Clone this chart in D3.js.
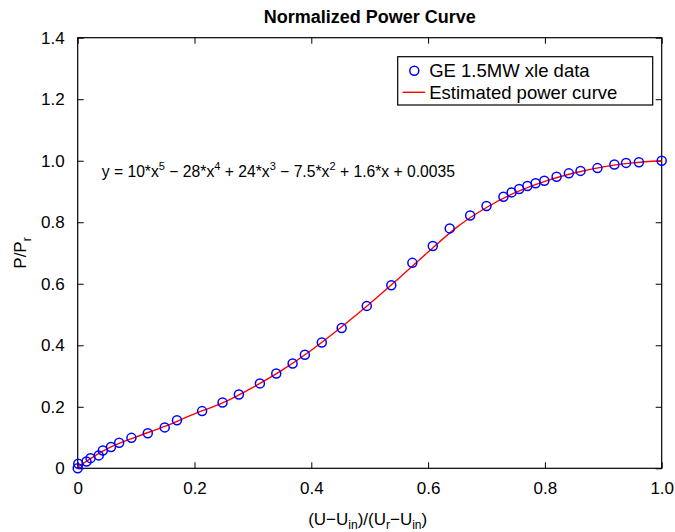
<!DOCTYPE html>
<html lang="en">
  <head>
    <meta charset='utf-8'>
    <script src='https://d3js.org/d3.v7.min.js'></script>
    <title>Normalized Power Curve</title>
    <style>
      body {
        margin: 0px;
        background: #fff;
      }
      text {
        font-family: 'Liberation Sans', Arial, Helvetica, sans-serif;
        fill: #000;
      }
      .tick text {
        font-size: 17px;
        fill: #000;
      }
    </style>
  </head>
  <body>
    <div id='viz'></div>
    <script>

      // measured data (normalized wind speed, normalized power)
      const dataX = [0, 0.001, 0.015, 0.022, 0.036, 0.043, 0.057, 0.071, 0.092, 0.120,
                     0.149, 0.170, 0.213, 0.248, 0.276, 0.312, 0.340, 0.368, 0.389, 0.418,
                     0.452, 0.495, 0.537, 0.573, 0.608, 0.637, 0.672, 0.700, 0.729, 0.743,
                     0.756, 0.770, 0.784, 0.799, 0.820, 0.841, 0.861, 0.890, 0.919, 0.939,
                     0.961, 1.0];
      const dataY = [0, 0.015, 0.022, 0.033, 0.042, 0.058, 0.069, 0.083, 0.099, 0.114,
                     0.133, 0.156, 0.186, 0.214, 0.240, 0.276, 0.308, 0.341, 0.369, 0.409,
                     0.456, 0.528, 0.595, 0.668, 0.723, 0.780, 0.822, 0.853, 0.883, 0.897,
                     0.908, 0.918, 0.927, 0.935, 0.948, 0.959, 0.967, 0.976, 0.988, 0.993,
                     0.995, 1.0];

      // estimated power curve
      const curveX = [0, 0.05, 0.1, 0.15, 0.2, 0.25, 0.3, 0.35, 0.4, 0.45, 0.5,
                      0.55, 0.6, 0.65, 0.7, 0.75, 0.8, 0.85, 0.9, 0.95, 1.0];
      const curveY = [0.004, 0.063, 0.102, 0.137, 0.177, 0.214, 0.263, 0.319, 0.384, 0.457, 0.535,
                      0.618, 0.703, 0.785, 0.848, 0.897, 0.933, 0.960, 0.980, 0.993, 1.0];

      const xTicks = [0, 0.2, 0.4, 0.6, 0.8, 1.0];
      const yTicks = [0, 0.2, 0.4, 0.6, 0.8, 1.0, 1.2, 1.4];

      const legendLabels = ['GE 1.5MW xle data', 'Estimated power curve'];
      const title = 'Normalized Power Curve';

      const width = 675, height = 532;
      const margin = { left: 77.7, right: 13.3, top: 37.7, bottom: 63.7 };
      const innerWidth = width - margin.left - margin.right;
      const innerHeight = height - margin.top - margin.bottom;

      const svg = d3.select('#viz').append('svg')
        .attr('width', width)
        .attr('height', height);

      const g = svg.append('g')
        .attr('transform', `translate(${margin.left},${margin.top})`);

      const xScale = d3.scaleLinear().domain([0, 1]).range([0, innerWidth]);
      const yScale = d3.scaleLinear().domain([0, 1.4]).range([innerHeight, 0]);

      const fmt = d => d === 0 ? '0' : d3.format('.1f')(d);
      const tickLen = 6;

      // axes, ticks pointing inward like matlab
      const xAxis = d3.axisBottom(xScale).tickValues(xTicks).tickFormat(fmt)
        .tickSize(-tickLen).tickPadding(tickLen + 8);
      const yAxis = d3.axisLeft(yScale).tickValues(yTicks).tickFormat(fmt)
        .tickSize(-tickLen).tickPadding(tickLen + 7);
      const xAxisTop = d3.axisTop(xScale).tickValues(xTicks).tickFormat('')
        .tickSize(-tickLen);
      const yAxisRight = d3.axisRight(yScale).tickValues(yTicks).tickFormat('')
        .tickSize(-tickLen);

      g.append('g').attr('transform', `translate(0,${innerHeight})`).call(xAxis);
      g.append('g').call(yAxis);
      g.append('g').call(xAxisTop);
      g.append('g').attr('transform', `translate(${innerWidth},0)`).call(yAxisRight);

      g.selectAll('.domain').remove();
      g.selectAll('.tick line').attr('stroke', '#000').attr('stroke-width', 1);
      g.selectAll('.tick text').attr('fill', '#000');

      g.append('rect')
        .attr('width', innerWidth)
        .attr('height', innerHeight)
        .attr('fill', 'none')
        .attr('stroke', '#000')
        .attr('stroke-width', 1.2);

      // fitted curve
      const curve = curveX.map((x, i) => ({ x: x, y: curveY[i] }));
      const line = d3.line()
        .x(d => xScale(d.x))
        .y(d => yScale(d.y))
        .curve(d3.curveMonotoneX);

      g.append('path')
        .datum(curve)
        .attr('fill', 'none')
        .attr('stroke', '#ff0000')
        .attr('stroke-width', 1.4)
        .attr('d', line);

      // data points
      const points = dataX.map((x, i) => ({ x: x, y: dataY[i] }));
      g.selectAll('circle.pt').data(points).enter().append('circle')
        .attr('class', 'pt')
        .attr('cx', d => xScale(d.x))
        .attr('cy', d => yScale(d.y))
        .attr('r', 4.5)
        .attr('fill', 'none')
        .attr('stroke', '#0000ff')
        .attr('stroke-width', 1.5);

      // text with raised / lowered pieces; each piece carries its own shift
      function richText(el, parts, shift, small) {
        let cur = 0;
        parts.forEach(p => {
          const target = p[1] ? shift : 0;
          const t = el.append('tspan').attr('dy', target - cur).text(p[0]);
          if (p[1]) t.style('font-size', small);
          cur = target;
        });
      }

      // equation annotation
      const eq = g.append('text')
        .attr('x', 101.7 - margin.left)
        .attr('y', 177.5 - margin.top)
        .style('font-size', '15.7px');
      richText(eq, [['y = 10*x', 0], ['5', 1], [' \u2212 28*x', 0], ['4', 1], [' + 24*x', 0], ['3', 1],
                    [' \u2212 7.5*x', 0], ['2', 1], [' + 1.6*x + 0.0035', 0]], -7, '11px');

      // legend
      const lg = svg.append('g').attr('transform', 'translate(397.7,56.7)');
      lg.append('rect')
        .attr('width', 255)
        .attr('height', 48.3)
        .attr('fill', '#fff')
        .attr('stroke', '#000')
        .attr('stroke-width', 1.2);
      lg.append('circle')
        .attr('cx', 16.6).attr('cy', 14)
        .attr('r', 4.5)
        .attr('fill', 'none')
        .attr('stroke', '#0000ff')
        .attr('stroke-width', 1.5);
      lg.append('line')
        .attr('x1', 5).attr('x2', 27.3)
        .attr('y1', 35.6).attr('y2', 35.6)
        .attr('stroke', '#ff0000')
        .attr('stroke-width', 1.4);
      lg.selectAll('text.lab').data(legendLabels).enter().append('text')
        .attr('class', 'lab')
        .attr('x', 31.5)
        .attr('y', (d, i) => 20.5 + i * 21.5)
        .style('font-size', '18.5px')
        .text(d => d);

      // title
      svg.append('text')
        .attr('x', margin.left + innerWidth / 2)
        .attr('y', 22.5)
        .attr('text-anchor', 'middle')
        .style('font-size', '18px')
        .style('font-weight', 'bold')
        .text(title);

      // x label
      const xl = svg.append('text')
        .attr('x', margin.left + innerWidth / 2 - 2)
        .attr('y', 524.5)
        .attr('text-anchor', 'middle')
        .style('font-size', '17px');
      richText(xl, [['(U\u2212U', 0], ['in', 1], [')/(U', 0], ['r', 1], ['\u2212U', 0], ['in', 1], [')', 0]],
               4.5, '12px');

      // y label
      const yl = svg.append('text')
        .attr('transform', `translate(25.5,${margin.top + innerHeight / 2}) rotate(-90)`)
        .attr('text-anchor', 'middle')
        .style('font-size', '17px');
      richText(yl, [['P/P', 0], ['r', 1]], 5, '12px');

    </script>
  </body>
</html>
